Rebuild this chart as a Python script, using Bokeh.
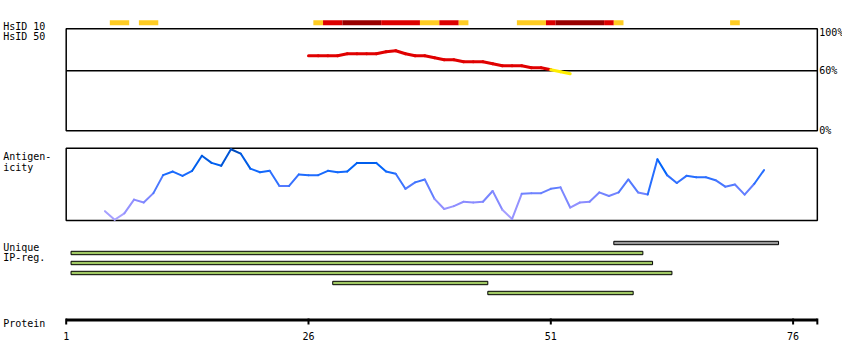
from bokeh.plotting import figure
from bokeh.models import Range1d, ColumnDataSource
from bokeh.core.properties import value
from bokeh.embed import file_html
from bokeh.resources import INLINE

# ---------------- data ----------------
protein_length = 78
axis_ticks = [1, 26, 51, 76]

# HsID 10 identity track: residue segments and identity level
hsid10_start = [6, 9, 27, 28, 30, 34, 38, 40, 42, 48, 51, 52, 57, 58, 70]
hsid10_end = [7, 10, 27, 29, 33, 37, 39, 41, 42, 50, 51, 56, 57, 58, 70]
hsid10_level = ["mid", "mid", "mid", "high", "top", "high", "mid", "high",
                 "mid", "mid", "high", "top", "high", "mid", "mid"]

# HsID 50 identity (%)
hsid50_residue = list(range(26, 54))
hsid50_identity = [75, 75, 75, 75, 77, 77, 77, 77, 79, 80, 77, 75, 75, 73,
                   71, 71, 69, 69, 69, 67, 65, 65, 65, 63, 63, 61, 59, 57]
pct_ticks = [100, 60, 0]
pct_labels = ["100%", "60%", "0%"]

# Antigenicity score (relative, 0-100)
antigen_residue = list(range(5, 74))
antigen_score = [13, 1, 10, 29, 25, 38, 63, 68, 62, 69,
                 90, 80, 76, 99, 93, 72, 67, 69, 48, 48,
                 64, 63, 63, 69, 67, 68, 80, 80, 80, 68,
                 65, 44, 53, 57, 30, 16, 20, 26, 25, 26,
                 41, 15, 2, 37, 38, 38, 44, 46, 18, 25,
                 26, 39, 34, 39, 57, 39, 36, 85, 63, 52,
                 62, 60, 60, 56, 47, 50, 36, 51, 70]

# Unique IP regions
ip_start = [58, 2, 2, 2, 29, 45]
ip_end = [74, 60, 61, 63, 44, 59]
ip_kind = ["other", "prest", "prest", "prest", "prest", "prest"]

track_labels = ["HsID 10", "HsID 50", "Antigen-", "icity", "Unique", "IP-reg.", "Protein"]

# ---------------- layout ----------------
W, H = 842, 352
ORIGIN = 0             # picture coordinate of the canvas' top-left corner
PX_PER_RES = 9.692
X_RES1 = 65.7          # picture x of residue 1
FONT = value("DejaVu Sans Mono")
FS = "10px"

x_start = 1 - (X_RES1 - ORIGIN) / PX_PER_RES
x_end = x_start + W / PX_PER_RES

p = figure(width=W, height=H, x_range=Range1d(x_start, x_end),
           y_range=Range1d(ORIGIN + H, ORIGIN),
           output_backend="svg", toolbar_location=None, min_border=0,
           x_axis_type=None, y_axis_type=None)
p.grid.visible = False
p.outline_line_color = None
p.background_fill_color = "white"
p.border_fill_color = "white"


def linear_range(v0, y0, v1, y1):
    """Range for a track where value v0 sits at picture y0 and v1 at y1."""
    k = (y0 - y1) / (v1 - v0)          # px per unit
    bottom = v0 - (ORIGIN + H - y0) / k
    top = v0 + (y0 - ORIGIN) / k
    return Range1d(bottom, top)


p.extra_y_ranges = {
    "pct": linear_range(0, 130.3, 100, 30.3),
    "ag": linear_range(0, 220.0, 100, 148.0),
}

box_right = protein_length + 0.5

# ---- HsID 10 ----
lvl_color = {"mid": "#ffcc22", "high": "#dd0000", "top": "#990000"}
src10 = ColumnDataSource(dict(
    left=[s - 0.5 for s in hsid10_start],
    right=[e + 0.5 for e in hsid10_end],
    color=[lvl_color[l] for l in hsid10_level]))
p.quad(left="left", right="right", top=19.8, bottom=24.8, source=src10,
       fill_color="color", line_color=None)

# ---- HsID 50 box ----
p.quad(left=1, right=box_right, bottom=0, top=102, y_range_name="pct",
       fill_color=None, line_color="black", line_width=1.5)
p.segment(x0=1, x1=box_right, y0=60, y1=60, y_range_name="pct",
          line_color="black", line_width=1.5)
xs50, ys50, cs50 = [], [], []
for i in range(len(hsid50_residue) - 1):
    a, b = hsid50_identity[i], hsid50_identity[i + 1]
    xs50.append([hsid50_residue[i], hsid50_residue[i + 1]])
    ys50.append([a, b])
    cs50.append("#e00000" if min(a, b) >= 60 else "#ffee00")
p.multi_line(xs=xs50, ys=ys50, line_color=cs50, line_width=3,
             line_cap="round", y_range_name="pct")
p.text(x=[box_right] * 3, y=pct_ticks, text=pct_labels, x_offset=2,
       y_offset=[2, 0, 0], y_range_name="pct",
       text_font=FONT, text_font_size=FS, text_baseline="middle",
       text_align="left", text_color="black")

# ---- Antigenicity ----
p.quad(left=1, right=box_right, bottom=0, top=100.4, y_range_name="ag",
       fill_color=None, line_color="black", line_width=1.5)

stops = [(0, (176, 168, 255)), (25, (140, 140, 255)), (45, (95, 125, 255)),
         (60, (40, 110, 255)), (75, (0, 100, 250)), (100, (0, 72, 180))]


def ag_color(v):
    for (v0, c0), (v1, c1) in zip(stops[:-1], stops[1:]):
        if v <= v1:
            t = (v - v0) / (v1 - v0)
            c = [round(c0[j] + t * (c1[j] - c0[j])) for j in range(3)]
            return "#%02x%02x%02x" % tuple(c)
    return "#%02x%02x%02x" % stops[-1][1]


xsa, ysa, csa = [], [], []
for i in range(len(antigen_residue) - 1):
    a, b = antigen_score[i], antigen_score[i + 1]
    xsa.append([antigen_residue[i], antigen_residue[i + 1]])
    ysa.append([a, b])
    csa.append(ag_color((a + b) / 2))
p.multi_line(xs=xsa, ys=ysa, line_color=csa, line_width=2,
             line_cap="round", y_range_name="ag")

# ---- Unique IP regions ----
kind_color = {"other": "#999999", "prest": "#a0c864"}
rows = list(range(len(ip_start)))
srcip = ColumnDataSource(dict(
    left=[s - 0.5 for s in ip_start],
    right=[e + 0.5 for e in ip_end],
    top=[240.8 + 10 * r for r in rows],
    bottom=[244.2 + 10 * r for r in rows],
    color=[kind_color[k] for k in ip_kind]))
p.quad(left="left", right="right", top="top", bottom="bottom", source=srcip,
       fill_color="color", line_color="black", line_width=1)

# ---- Protein axis ----
p.segment(x0=1, x1=box_right, y0=319.5, y1=319.5, line_color="black",
          line_width=3)
tick_x = axis_ticks + [box_right]
p.segment(x0=tick_x, x1=tick_x, y0=[318] * len(tick_x), y1=[324] * len(tick_x),
          line_color="black", line_width=2)
p.text(x=axis_ticks, y=[335.5] * len(axis_ticks), text=[str(t) for t in axis_ticks],
       text_font=FONT, text_font_size=FS, text_align="center",
       text_baseline="alphabetic", text_color="black")

# ---- left labels ----
label_y = [26, 36, 156, 166.7, 246.7, 256.7, 323]
p.text(x=[x_start + 2.7 / PX_PER_RES] * len(track_labels), y=label_y,
       text=track_labels, text_font=FONT, text_font_size=FS,
       text_align="left", text_baseline="alphabetic", text_color="black")

open("out.html", "w").write(file_html(p, INLINE))
